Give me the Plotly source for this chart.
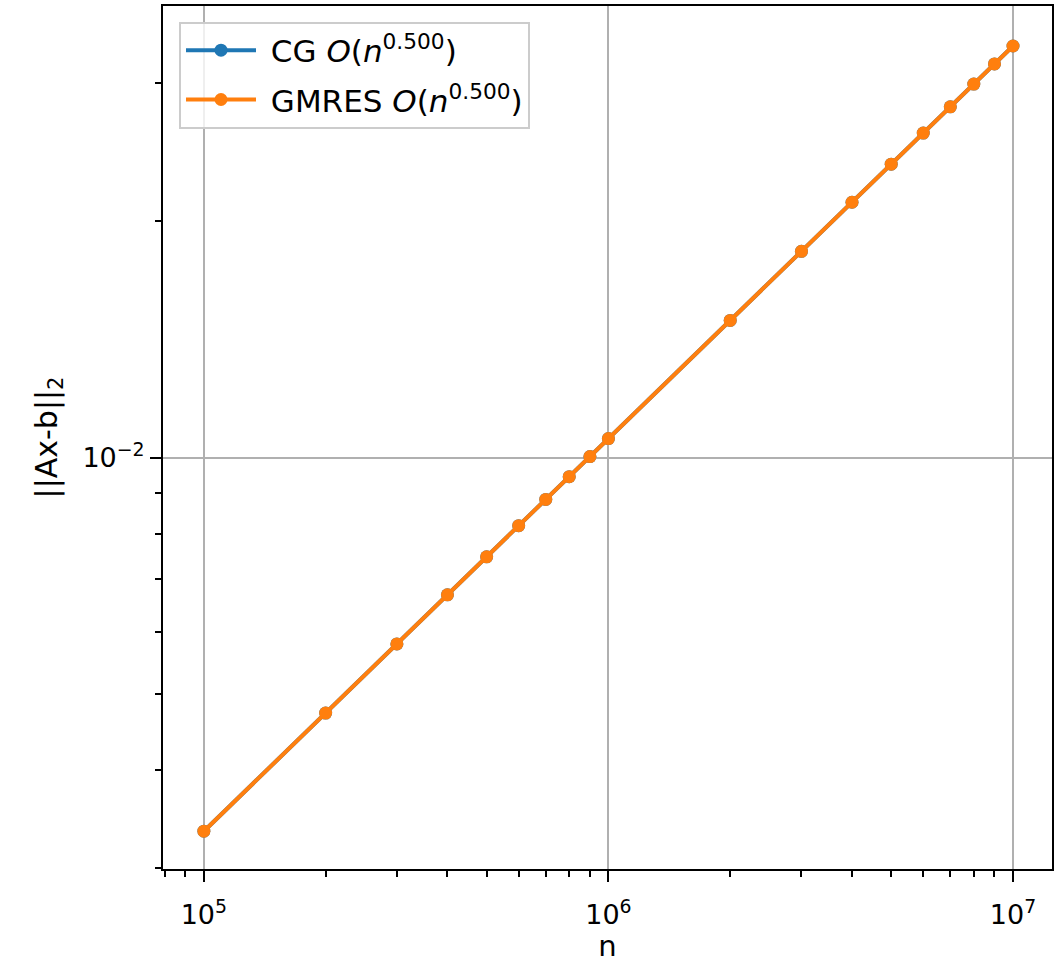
import plotly.graph_objects as go

n_vals = [1e5, 2e5, 3e5, 4e5, 5e5, 6e5, 7e5, 8e5, 9e5,
          1e6, 2e6, 3e6, 4e6, 5e6, 6e6, 7e6, 8e6, 9e6, 1e7]
cg_res = [0.003343, 0.004727, 0.005789, 0.006685, 0.007474, 0.008188, 0.008844,
          0.009454, 0.010028, 0.01057, 0.014948, 0.018308, 0.02114, 0.023635,
          0.025891, 0.027966, 0.029896, 0.03171, 0.033425]
gmres_res = [0.003343, 0.004727, 0.005789, 0.006685, 0.007474, 0.008188, 0.008844,
             0.009454, 0.010028, 0.01057, 0.014948, 0.018308, 0.02114, 0.023635,
             0.025891, 0.027966, 0.029896, 0.03171, 0.033425]

x_major = [1e5, 1e6, 1e7]
x_major_text = ["10<sup>5</sup>", "10<sup>6</sup>", "10<sup>7</sup>"]
x_minor = [8e4, 9e4, 2e5, 3e5, 4e5, 5e5, 6e5, 7e5, 8e5, 9e5,
           2e6, 3e6, 4e6, 5e6, 6e6, 7e6, 8e6, 9e6]
y_major = [1e-2]
y_major_text = ["10<sup>\u22122</sup>"]
y_minor = [3e-3, 4e-3, 5e-3, 6e-3, 7e-3, 8e-3, 9e-3, 2e-2, 3e-2]

FONT = "DejaVu Sans"

fig = go.Figure()
fig.add_trace(go.Scatter(
    x=n_vals, y=cg_res, mode="lines+markers",
    name="&nbsp;CG <i>O</i>(<i>n</i><sup>0.500</sup>)",
    legendgroup="cg",
    line=dict(color="#1f77b4", width=4),
    marker=dict(color="#1f77b4", size=13),
))
fig.add_trace(go.Scatter(
    x=n_vals, y=gmres_res, mode="lines+markers",
    name="&nbsp;GMRES <i>O</i>(<i>n</i><sup>0.500</sup>)",
    legendgroup="gmres",
    line=dict(color="#ff7f0e", width=4),
    marker=dict(color="#ff7f0e", size=13),
))

axis_common = dict(
    type="log",
    showline=True, linecolor="black", linewidth=2, mirror=True,
    ticks="outside", ticklen=11, tickwidth=2, tickcolor="black",
    showgrid=True, gridcolor="#b0b0b0", gridwidth=1.5,
    zeroline=False, automargin=False,
    tickfont=dict(family=FONT, size=27, color="black"),
    tickmode="array",
)

fig.update_xaxes(
    **axis_common,
    range=[4.899, 7.0964],
    tickvals=x_major, ticktext=x_major_text,
    ticklabelstandoff=10,
    minor=dict(tickmode="array", tickvals=x_minor, ticks="outside",
               ticklen=6, tickwidth=1.5, tickcolor="black", showgrid=False),
    title=dict(text="n", font=dict(family=FONT, size=29, color="black"), standoff=20),
)
fig.update_yaxes(
    **axis_common,
    range=[-2.524, -1.425],
    tickvals=y_major, ticktext=y_major_text,
    minor=dict(tickmode="array", tickvals=y_minor, ticks="outside",
               ticklen=6, tickwidth=1.5, tickcolor="black", showgrid=False),
    title=dict(text="||Ax-b||<sub>2</sub>", font=dict(family=FONT, size=30, color="black"), standoff=16),
)

fig.update_layout(
    width=1060, height=963,
    margin=dict(l=163, r=8, t=6, b=94),
    plot_bgcolor="white", paper_bgcolor="white",
    font=dict(family=FONT, size=28, color="black"),
    legend=dict(
        x=0.018, y=0.982, xanchor="left", yanchor="top",
        bgcolor="rgba(255,255,255,0.8)", bordercolor="#cccccc", borderwidth=2,
        font=dict(family=FONT, size=31, color="black"),
        itemwidth=70,
        tracegroupgap=6,
        traceorder="grouped",
    ),
)

fig.write_html("out.html")
